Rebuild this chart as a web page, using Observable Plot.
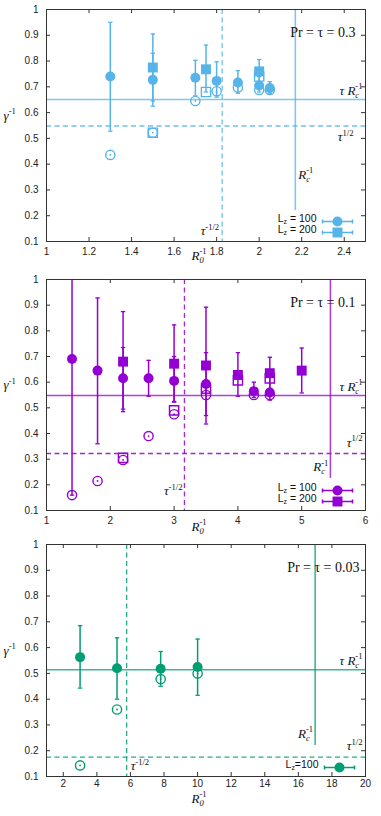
<!DOCTYPE html>
<html><head><meta charset="utf-8">
<script src="https://cdn.jsdelivr.net/npm/d3@7"></script>
<script src="https://cdn.jsdelivr.net/npm/@observablehq/plot@0.6"></script>
<style>
body{margin:0;background:#fff;}
#chart svg{display:block;overflow:visible;}
</style>
</head><body><div id="chart"></div>
<script>
// ---------- shared ----------
const yTicks = [0.1, 0.2, 0.3, 0.4, 0.5, 0.6, 0.7, 0.8, 0.9, 1];
const legend2 = ["L_{z} = 100", "L_{z} = 200"];
const legend1 = ["L_{z}=100"];

// ---------- panel A : Pr = tau = 0.3 ----------
const aTitle = "Pr = τ = 0.3";
const aXTicks = [1, 1.2, 1.4, 1.6, 1.8, 2, 2.2, 2.4];
const aC100x = [1.3, 1.5, 1.7, 1.8, 1.9, 2.0, 2.05];
const aC100y = [0.740, 0.727, 0.735, 0.723, 0.717, 0.705, 0.695];
const aC100hi = [0.950, 0.830, 0.803, 0.797, 0.763, 0.740, 0.720];
const aC100lo = [0.528, 0.645, 0.665, 0.660, 0.675, 0.680, 0.675];
const aS200x = [1.5, 1.75, 2.0];
const aS200y = [0.775, 0.768, 0.760];
const aS200hi = [0.905, 0.862, 0.806];
const aS200lo = [0.625, 0.680, 0.710];
const aO100x = [1.3, 1.5, 1.7, 1.8, 1.9, 2.0, 2.05];
const aO100y = [0.436, 0.522, 0.645, 0.683, 0.697, 0.688, 0.688];
const aO200x = [1.5, 1.75, 2.0];
const aO200y = [0.522, 0.680, 0.740];
const aRef = [0.651, 0.548, 1.826, 2.17, 0.22]; // tau/Rc, tau^1/2, tau^-1/2, 1/Rc, end of 1/Rc line

// ---------- panel B : Pr = tau = 0.1 ----------
const bTitle = "Pr = τ = 0.1";
const bXTicks = [1, 2, 3, 4, 5, 6];
const bC100x = [1.4, 1.8, 2.2, 2.6, 3.0, 3.5, 4.25, 4.5];
const bC100y = [0.690, 0.645, 0.615, 0.615, 0.605, 0.593, 0.565, 0.560];
const bC100hi = [1.05, 0.928, 0.735, 0.685, 0.700, 0.715, 0.600, 0.620];
const bC100lo = [0.160, 0.360, 0.495, 0.545, 0.522, 0.470, 0.540, 0.530];
const bS200x = [2.2, 3.0, 3.5, 4.0, 4.5, 5.0];
const bS200y = [0.680, 0.672, 0.665, 0.628, 0.635, 0.645];
const bS200hi = [0.875, 0.823, 0.892, 0.715, 0.697, 0.733];
const bS200lo = [0.485, 0.525, 0.437, 0.545, 0.575, 0.558];
const bO100x = [1.4, 1.8, 2.2, 2.6, 3.0, 3.5, 4.25, 4.5];
const bO100y = [0.160, 0.215, 0.297, 0.390, 0.475, 0.550, 0.550, 0.550];
const bO200x = [2.2, 3.0, 3.5, 4.0, 4.5];
const bO200y = [0.305, 0.490, 0.575, 0.607, 0.615];
const bRef = [0.548, 0.322, 3.162, 5.45, 0.225];

// ---------- panel C : Pr = tau = 0.03 ----------
const cTitle = "Pr = τ = 0.03";
const cXTicks = [2, 4, 6, 8, 10, 12, 14, 16, 18, 20];
const cC100x = [3, 5.2, 7.8, 10];
const cC100y = [0.563, 0.520, 0.518, 0.525];
const cC100hi = [0.685, 0.638, 0.585, 0.633];
const cC100lo = [0.443, 0.400, 0.450, 0.415];
const cO100x = [3, 5.2, 7.8, 10];
const cO100y = [0.143, 0.360, 0.478, 0.500];
const cRef = [0.514, 0.175, 5.774, 17.0, 0.22];

// ---------- helpers ----------
const zip = (xs, ys, his, los) => xs.map((x, i) => ({x, y: ys[i], hi: his ? his[i] : null, lo: los ? los[i] : null}));
const capSymbol = {draw(ctx, size) { const r = Math.sqrt(size / Math.PI); ctx.moveTo(-r, 0); ctx.lineTo(r, 0); }};
const barSymbol = {draw(ctx, size) { const r = Math.sqrt(size / Math.PI);
  ctx.moveTo(-r, 0); ctx.lineTo(r, 0); ctx.moveTo(-r, -2); ctx.lineTo(-r, 2); ctx.moveTo(r, -2); ctx.lineTo(r, 2); }};
const SERIF = "Liberation Serif, Times New Roman, serif";
const SANS = "Liberation Sans, Arial, Helvetica, sans-serif";
const fmt = d => String(d);

function panel(cfg) {
  const W = 381, mt = 9, ml = 46, mr = 16;
  const {color, height, mb, xDomain, xTicks, ref} = cfg;
  const innerH = height - mt - mb, innerW = W - ml - mr;
  const [tauRc, sqrtTau, invSqrtTau, Rc, RcEnd] = ref;
  const marks = [];
  // reference lines
  marks.push(Plot.ruleY([tauRc], {y: d => d, stroke: color, strokeWidth: 1.6, strokeOpacity: 0.75}));
  marks.push(Plot.ruleY([sqrtTau], {y: d => d, stroke: color, strokeWidth: 1.3, strokeOpacity: 0.85, strokeDasharray: "5,3.5"}));
  marks.push(Plot.ruleX([invSqrtTau], {x: d => d, stroke: color, strokeWidth: 1.3, strokeOpacity: 0.85, strokeDasharray: "5,3.5"}));
  marks.push(Plot.ruleX([{x: Rc, y1: RcEnd, y2: 1}], {x: "x", y1: "y1", y2: "y2", stroke: color, strokeWidth: 1.6, strokeOpacity: 0.75}));
  // error bars
  for (const s of [cfg.c100, cfg.s200].filter(Boolean)) {
    marks.push(Plot.ruleX(s, {x: "x", y1: "lo", y2: "hi", stroke: color, strokeWidth: 1.5, clip: true}));
    marks.push(Plot.dot(s, {x: "x", y: "hi", symbol: capSymbol, r: 2.2, stroke: color, strokeWidth: 1.3, clip: true}));
    marks.push(Plot.dot(s, {x: "x", y: "lo", symbol: capSymbol, r: 2.2, stroke: color, strokeWidth: 1.3, clip: true}));
  }
  // open markers (stationary values)
  marks.push(Plot.dot(cfg.o100, {x: "x", y: "y", r: 4.6, stroke: color, strokeWidth: 1.4, fill: "none"}));
  if (cfg.o200) marks.push(Plot.dot(cfg.o200, {x: "x", y: "y", symbol: "square", r: 5.2, stroke: color, strokeWidth: 1.4, fill: "none"}));
  marks.push(Plot.dot(cfg.o100, {x: "x", y: "y", r: 0.9, fill: color}));
  // filled markers
  if (cfg.s200) marks.push(Plot.dot(cfg.s200, {x: "x", y: "y", symbol: "square", r: 5.6, fill: color}));
  marks.push(Plot.dot(cfg.c100, {x: "x", y: "y", r: 5, fill: color}));
  // frame and inward ticks
  marks.push(Plot.frame({stroke: "#333", strokeWidth: 1}));
  marks.push(Plot.tickX(xTicks, {x: d => d, insetTop: innerH - 4, stroke: "#333"}));
  marks.push(Plot.tickX(xTicks, {x: d => d, insetBottom: innerH - 4, stroke: "#333"}));
  marks.push(Plot.tickY(yTicks, {y: d => d, insetLeft: innerW - 4, stroke: "#333"}));
  marks.push(Plot.tickY(yTicks, {y: d => d, insetRight: innerW - 4, stroke: "#333"}));
  marks.push(Plot.axisX(xTicks, {tickSize: 0, tickPadding: cfg.xPad, tickFormat: fmt, label: null, fontSize: 10, fill: "#222"}));
  marks.push(Plot.axisY(yTicks, {tickSize: 0, tickPadding: 8, tickFormat: fmt, label: null, fontSize: 10, fill: "#222"}));
  // axis labels
  marks.push(Plot.text(["R_{0}^{-1}"], {frameAnchor: "bottom", dx: -7, dy: cfg.xLabelDy, text: d => d, fontFamily: SERIF, fontStyle: "italic", fontSize: 13, fill: "#111"}));
  marks.push(Plot.text(["γ^{-1}"], {frameAnchor: "left", textAnchor: "start", dx: -43, dy: -10, text: d => d, fontFamily: SERIF, fontStyle: "italic", fontSize: 13, fill: "#111"}));
  // title
  marks.push(Plot.text([cfg.title], {frameAnchor: "top-right", textAnchor: "end", dx: cfg.titleDx, dy: 18, text: d => d, fontFamily: SERIF, fontSize: 14, fill: "#111"}));
  // reference-line labels
  const lab = {fontFamily: SERIF, fontStyle: "italic", fontSize: 13, fill: "#111"};
  marks.push(Plot.text([tauRc], {y: d => d, frameAnchor: "right", textAnchor: "end", dx: -3, dy: -9, text: () => "τ R_{c}^{-1}", ...lab}));
  marks.push(Plot.text([sqrtTau], {y: d => d, frameAnchor: "right", textAnchor: "end", dx: cfg.sqrtDx, dy: cfg.sqrtDy, text: () => "τ^{1/2}", ...lab}));
  marks.push(Plot.text([{x: Rc, y: cfg.rcLabelY}], {x: "x", y: "y", textAnchor: cfg.rcAnchor, dx: cfg.rcDx, text: () => "R_{c}^{-1}", ...lab}));
  marks.push(Plot.text([{x: invSqrtTau, y: cfg.isLabelY}], {x: "x", y: "y", textAnchor: cfg.isAnchor, dx: cfg.isDx, text: () => "τ^{-1/2}", ...lab}));
  // legend
  cfg.legend.forEach((t, i) => {
    const dy = cfg.legendDy[i];
    marks.push(Plot.text([t], {frameAnchor: "bottom-right", textAnchor: "end", dx: cfg.legendTextDx, dy, text: d => d, fontFamily: SANS, fontSize: 10.5, fill: "#111"}));
    marks.push(Plot.dot([t], {frameAnchor: "bottom-right", dx: cfg.legendSymDx, dy, symbol: barSymbol, r: cfg.legendHalf, stroke: color, strokeWidth: 1.5}));
    marks.push(Plot.dot([t], {frameAnchor: "bottom-right", dx: cfg.legendSymDx, dy, symbol: i === 0 ? "circle" : "square", r: i === 0 ? 5 : 5.6, fill: color}));
  });
  return Plot.plot({
    width: W, height, marginTop: mt, marginBottom: mb, marginLeft: ml, marginRight: mr,
    x: {domain: xDomain, label: null},
    y: {domain: [0.1, 1], label: null},
    style: {fontFamily: SANS, fontSize: "10px", color: "#222", background: "none", overflow: "visible"},
    marks
  });
}

function richify(root) {
  const NS = "http://www.w3.org/2000/svg";
  root.querySelectorAll("text").forEach(t => {
    const s = t.textContent;
    if (!/[_^]\{/.test(s)) return;
    const base = parseFloat(getComputedStyle(t).fontSize) || 12;
    const fs = (base * 0.66).toFixed(1) + "px";
    const subShift = base * 0.26, supShift = -base * 0.42;
    while (t.firstChild) t.removeChild(t.firstChild);
    let cur = 0;
    const add = (str, target, size, dx, upright) => {
      const ts = document.createElementNS(NS, "tspan");
      ts.textContent = str;
      const dy = target - cur; cur = target;
      if (dy) ts.setAttribute("dy", dy.toFixed(2));
      if (dx) ts.setAttribute("dx", dx.toFixed(2));
      if (size) ts.setAttribute("font-size", size);
      if (upright) ts.setAttribute("font-style", "normal");
      t.appendChild(ts);
      return ts;
    };
    const re = /_\{([^}]*)\}\^\{([^}]*)\}|\^\{([^}]*)\}|_\{([^}]*)\}|([^_^]+)/g;
    for (const m of s.matchAll(re)) {
      if (m[1] !== undefined) {
        const sub = add(m[1], subShift, fs);
        const w = sub.getComputedTextLength();
        add(m[2], supShift, fs, -w, true);
      } else if (m[3] !== undefined) add(m[3], supShift, fs, 0, true);
      else if (m[4] !== undefined) add(m[4], subShift, fs);
      else add(m[5], 0);
    }
  });
}

const chart = document.getElementById("chart");
const panels = [
  panel({color: "#56b4e9", height: 270, mb: 29, xDomain: [1, 2.5], xTicks: aXTicks, ref: aRef, title: aTitle, titleDx: -10, xLabelDy: 18, xPad: 6,
    c100: zip(aC100x, aC100y, aC100hi, aC100lo), s200: zip(aS200x, aS200y, aS200hi, aS200lo),
    o100: zip(aO100x, aO100y), o200: zip(aO200x, aO200y),
    sqrtDx: -12, sqrtDy: 11, rcLabelY: 0.36, rcAnchor: "start", rcDx: 3, isLabelY: 0.14, isAnchor: "end", isDx: -3,
    legend: legend2, legendDy: [-20, -9], legendTextDx: -49, legendSymDx: -28, legendHalf: 15}),
  panel({color: "#9400d3", height: 265, mb: 25, xDomain: [1, 6], xTicks: bXTicks, ref: bRef, title: bTitle, titleDx: -10, xLabelDy: 20, xPad: 6,
    c100: zip(bC100x, bC100y, bC100hi, bC100lo), s200: zip(bS200x, bS200y, bS200hi, bS200lo),
    o100: zip(bO100x, bO100y), o200: zip(bO200x, bO200y),
    sqrtDx: -3, sqrtDy: -11, rcLabelY: 0.27, rcAnchor: "end", rcDx: -2, isLabelY: 0.175, isAnchor: "end", isDx: -2,
    legend: legend2, legendDy: [-20, -9], legendTextDx: -49, legendSymDx: -28, legendHalf: 15}),
  panel({color: "#009e73", height: 281, mb: 40, xDomain: [1, 20], xTicks: cXTicks, ref: cRef, title: cTitle, titleDx: -6, xLabelDy: 26, xPad: 3,
    c100: zip(cC100x, cC100y, cC100hi, cC100lo), s200: null,
    o100: zip(cO100x, cO100y), o200: null,
    sqrtDx: -3, sqrtDy: -11, rcLabelY: 0.267, rcAnchor: "end", rcDx: -2, isLabelY: 0.141, isAnchor: "start", isDx: 4,
    legend: legend1, legendDy: [-9], legendTextDx: -47, legendSymDx: -26, legendHalf: 15})
];
panels.forEach(p => { chart.appendChild(p); richify(p); });
</script>
</body></html>
